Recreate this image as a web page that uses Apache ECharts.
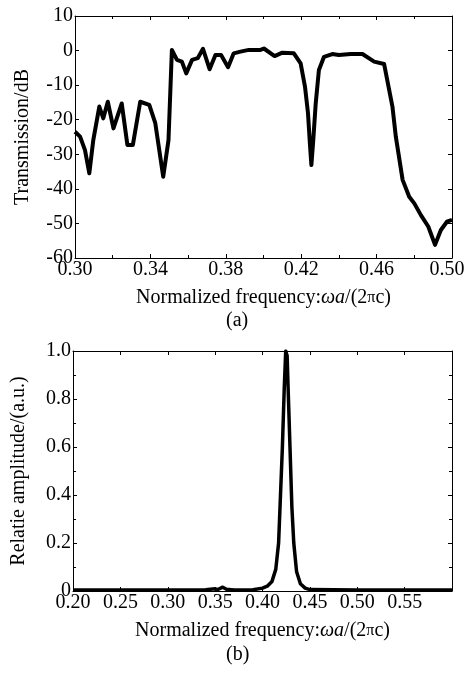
<!DOCTYPE html>
<html><head><meta charset="utf-8">
<script src="https://cdn.jsdelivr.net/npm/echarts@6/dist/echarts.min.js"></script>
<style>html,body{margin:0;padding:0;background:#fff}#c{width:464px;height:674px}</style>
</head><body><div id="c"></div>
<script>
// Panel (a): transmission spectrum
const freqA = [0.300,0.3027,0.3053,0.3076,0.3097,0.3129,0.3150,0.3174,0.3204,0.3248,0.3278,0.3307,0.3346,0.3394,0.3426,0.3468,0.3496,0.3514,0.3541,0.3567,0.3590,0.3621,0.3651,0.3679,0.3714,0.3745,0.3775,0.3812,0.3842,0.3878,0.3922,0.3984,0.4002,0.4059,0.4100,0.4161,0.4197,0.4220,0.4236,0.4246,0.4254,0.4264,0.4277,0.4294,0.4321,0.4365,0.4400,0.4463,0.4525,0.4587,0.4640,0.4684,0.4702,0.4738,0.4773,0.4800,0.4835,0.4874,0.4910,0.4941,0.4973,0.5000];
const transA = [-23.5,-24.9,-28.8,-35.5,-25.9,-16.2,-19.6,-14.8,-22.5,-15.3,-27.3,-27.3,-14.8,-15.7,-21.0,-36.5,-25.9,0.2,-2.7,-3.2,-6.6,-2.7,-2.2,0.5,-5.4,-1.3,-1.3,-4.8,-0.8,-0.3,0.2,0.2,0.6,-1.6,-0.6,-0.8,-3.7,-10.4,-18.1,-26.8,-33.1,-25.9,-15.3,-5.6,-1.8,-1.0,-1.3,-1.0,-1.0,-3.2,-3.9,-16.2,-24.9,-37.4,-42.3,-44.2,-47.6,-50.9,-56.2,-51.9,-49.5,-49.0];
// Panel (b): relative amplitude
const freqB = [0.200,0.250,0.300,0.340,0.350,0.353,0.358,0.362,0.370,0.390,0.400,0.405,0.410,0.414,0.417,0.419,0.421,0.423,0.4245,0.426,0.427,0.429,0.431,0.433,0.436,0.440,0.445,0.450,0.500,0.600];
const ampB  = [0.004,0.004,0.004,0.005,0.009,0.006,0.016,0.007,0.004,0.005,0.012,0.020,0.040,0.090,0.200,0.400,0.600,0.850,1.000,0.980,0.850,0.600,0.350,0.200,0.080,0.030,0.012,0.006,0.004,0.004];
const ticksA_x = [0.30,0.34,0.38,0.42,0.46,0.50];
const ticksB_x = [0.20,0.25,0.30,0.35,0.40,0.45,0.50,0.55];

const FONT = 'Liberation Serif';
const lab = {fontFamily: FONT, fontSize: 20, color: '#000'};
const line = {show: true, onZero: false, lineStyle: {color: '#000', width: 1}};
const tick = {show: true, inside: true, length: 4, lineStyle: {color: '#000', width: 1}};
const minor = {show: true, length: 3, lineStyle: {color: '#000', width: 1}};

function fmtX(v, arr){
  for (let k = 0; k < arr.length; k++) {
    if (Math.abs(arr[k] - v) < 1e-6) {
      const s = arr[k].toFixed(2);
      return (arr === ticksA_x && k === arr.length - 1) ? '{r|' + s + '}' : s;
    }
  }
  return '';
}

const chart = echarts.init(document.getElementById('c'), null, {renderer: 'canvas'});
const nameRich = {
  i: {fontFamily: FONT, fontSize: 20, fontStyle: 'italic', color: '#000'},
  p: {fontFamily: FONT, fontSize: 16, color: '#000'}
};
chart.setOption({
  animation: false,
  backgroundColor: '#fff',
  grid: [
    {left: 75, right: 12, top: 16, height: 242, containLabel: false, outerBoundsMode: 'none'},
    {left: 73, right: 12, top: 351, height: 240, containLabel: false, outerBoundsMode: 'none'}
  ],
  xAxis: [
    {type: 'value', gridIndex: 0, min: 0.30, max: 0.50, interval: 0.04,
     axisLine: line, axisTick: tick, minorTick: Object.assign({splitNumber: 2}, minor), splitLine: {show: false},
     axisLabel: Object.assign({margin: 2, formatter: v => fmtX(v, ticksA_x),
       rich: {r: {fontFamily: FONT, fontSize: 20, color: '#000', padding: [0, 10, 0, 0]}}}, lab),
     name: 'Normalized frequency:{i|ωa}/(2{p|π}c)', nameLocation: 'middle', nameGap: 30,
     nameTextStyle: Object.assign({rich: nameRich}, lab)},
    {type: 'value', gridIndex: 0, position: 'top', min: 0.30, max: 0.50, interval: 0.04,
     axisLine: line, axisTick: tick, minorTick: Object.assign({splitNumber: 2}, minor), splitLine: {show: false},
     axisLabel: {show: false}},
    {type: 'value', gridIndex: 1, min: 0.20, max: 0.60, interval: 0.05,
     axisLine: line, axisTick: tick, splitLine: {show: false},
     axisLabel: Object.assign({margin: 2, showMaxLabel: false, formatter: v => fmtX(v, ticksB_x)}, lab),
     name: 'Normalized frequency:{i|ωa}/(2{p|π}c)', nameLocation: 'middle', nameGap: 30,
     nameTextStyle: Object.assign({rich: nameRich}, lab)},
    {type: 'value', gridIndex: 1, position: 'top', min: 0.20, max: 0.60, interval: 0.05,
     axisLine: line, axisTick: tick, splitLine: {show: false}, axisLabel: {show: false}}
  ],
  yAxis: [
    {type: 'value', gridIndex: 0, min: -60, max: 10, interval: 10,
     axisLine: line, axisTick: tick, splitLine: {show: false},
     axisLabel: Object.assign({margin: 2}, lab),
     name: 'Transmission/dB', nameLocation: 'middle', nameGap: 42, nameTextStyle: lab},
    {type: 'value', gridIndex: 0, position: 'right', min: -60, max: 10, interval: 10,
     axisLine: line, axisTick: tick, splitLine: {show: false}, axisLabel: {show: false}},
    {type: 'value', gridIndex: 1, min: 0, max: 1, interval: 0.2,
     axisLine: line, axisTick: tick, minorTick: Object.assign({splitNumber: 2}, minor), splitLine: {show: false},
     axisLabel: Object.assign({margin: 2, formatter: v => v === 0 ? '0' : v.toFixed(1)}, lab),
     name: 'Relatie amplitude/(a.u.)', nameLocation: 'middle', nameGap: 44, nameTextStyle: lab},
    {type: 'value', gridIndex: 1, position: 'right', min: 0, max: 1, interval: 0.2,
     axisLine: line, axisTick: tick, minorTick: Object.assign({splitNumber: 2}, minor), splitLine: {show: false}, axisLabel: {show: false}}
  ],
  graphic: [
    {type: 'text', left: 226, top: 311, style: {text: '(a)', font: '20px "Liberation Serif"', fill: '#000'}},
    {type: 'text', left: 226, top: 645, style: {text: '(b)', font: '20px "Liberation Serif"', fill: '#000'}}
  ],
  series: [
    {type: 'line', xAxisIndex: 0, yAxisIndex: 0, showSymbol: false, symbol: 'none',
     lineStyle: {color: '#000', width: 4, join: 'round'},
     data: freqA.map((f, i) => [f, transA[i]])},
    {type: 'line', xAxisIndex: 2, yAxisIndex: 2, showSymbol: false, symbol: 'none',
     lineStyle: {color: '#000', width: 3.5, join: 'round'},
     data: freqB.map((f, i) => [f, ampB[i]])}
  ]
});
</script>
</body></html>
